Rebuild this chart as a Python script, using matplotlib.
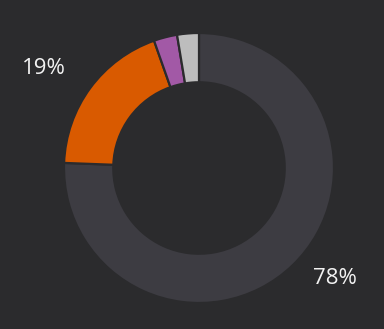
import matplotlib
matplotlib.use("Agg")
import matplotlib.pyplot as plt
import numpy as np

# slice sizes (small slices drawn wider than their share)
names = ["Other", "Orange", "Purple", "Light"]
sizes = [75.6, 19.0, 2.8, 2.6]
colors = ["#3d3c42", "#d95a00", "#a259a6", "#bdbdbd"]
labels = ["78%", "19%", "", ""]

bg = "#2b2b2d"

fig = plt.figure(figsize=(3.84, 3.29), dpi=100, facecolor=bg)
ax = fig.add_axes([0, 0, 1, 1])
ax.set_facecolor(bg)

wedges, _ = ax.pie(sizes, colors=colors, startangle=90, counterclock=False,
                   radius=1.0,
                   wedgeprops=dict(width=0.365, edgecolor=bg, linewidth=1.6))

# label positions around the ring
label_pos = {"78%": (1.01, -0.815), "19%": (-1.148, 0.74)}
for lab in labels:
    if lab:
        x, y = label_pos[lab]
        ax.text(x, y, lab, color="#f2f2f2", fontsize=16, family="Open Sans",
                ha="center", va="center")

ax.set_xlim(-199 / 135, (384 - 199) / 135)
ax.set_ylim(-(329 - 168) / 135, 168 / 135)
ax.set_aspect("equal")
ax.axis("off")

fig.savefig("out.png", dpi=100, facecolor=bg)
